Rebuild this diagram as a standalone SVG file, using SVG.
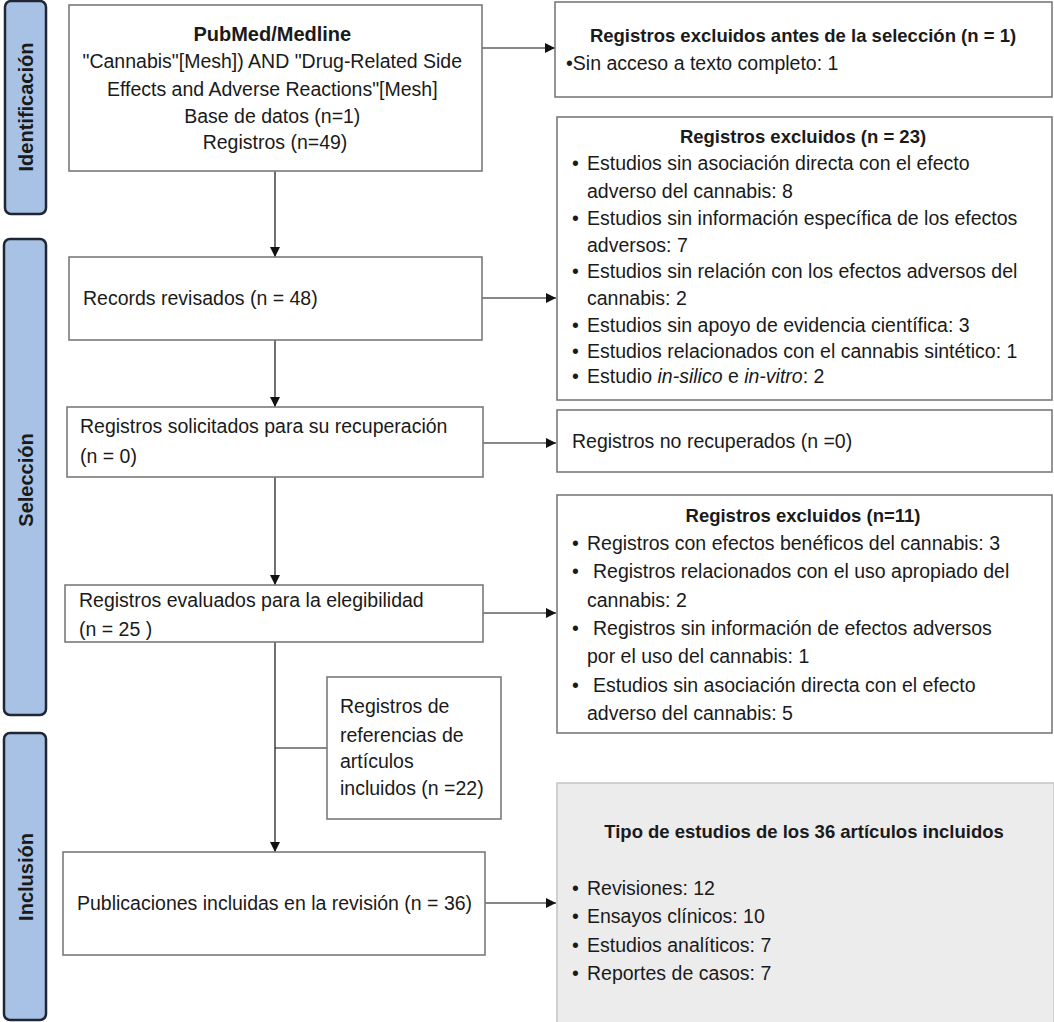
<svg xmlns="http://www.w3.org/2000/svg" width="1054" height="1022" viewBox="0 0 1054 1022">
<defs>
<style>
.box{fill:#fff;stroke:#7a7a7a;stroke-width:1.6}
.grey{fill:#ececec;stroke:#c4c4c4;stroke-width:1.5}
.bar{fill:#a7c2e5;stroke:#1e2733;stroke-width:2.5}
.t{font-family:"Liberation Sans",Arial,sans-serif;font-size:19.5px;fill:#1a1a1a}
.b{font-weight:bold;font-size:18.5px}
.bl{font-family:"Liberation Sans",Arial,sans-serif;font-weight:bold;font-size:20px;fill:#1a1a1a}
.c{stroke:#111;stroke-width:1.2;fill:none}
</style>
<marker id="ah" viewBox="0 0 10 10" refX="10" refY="5" markerWidth="10" markerHeight="10" markerUnits="userSpaceOnUse" orient="auto">
<path d="M0,0 L10,5 L0,10 z" fill="#111"/>
</marker>
</defs>

<g id="phase-identificacion">
<rect class="bar" x="5" y="1" width="41" height="213" rx="6"/>
<text class="bl" transform="translate(33,107) rotate(-90)" text-anchor="middle">Identificación</text>
</g>
<g id="phase-seleccion">
<rect class="bar" x="4" y="239" width="42" height="476" rx="6"/>
<text class="bl" transform="translate(33,480) rotate(-90)" text-anchor="middle">Selección</text>
</g>
<g id="phase-inclusion">
<rect class="bar" x="4" y="733" width="42" height="287" rx="6"/>
<text class="bl" transform="translate(33,877) rotate(-90)" text-anchor="middle">Inclusión</text>
</g>

<g id="connectors">
<line class="c" x1="275" y1="171" x2="275" y2="257" marker-end="url(#ah)"/>
<line class="c" x1="275" y1="340" x2="275" y2="407" marker-end="url(#ah)"/>
<line class="c" x1="275" y1="477" x2="275" y2="585" marker-end="url(#ah)"/>
<line class="c" x1="275" y1="642" x2="275" y2="852" marker-end="url(#ah)"/>
<line class="c" x1="275" y1="748" x2="327" y2="748"/>
<line class="c" x1="482" y1="48" x2="555" y2="48" marker-end="url(#ah)"/>
<line class="c" x1="482" y1="298" x2="556" y2="298" marker-end="url(#ah)"/>
<line class="c" x1="483" y1="443" x2="556" y2="443" marker-end="url(#ah)"/>
<line class="c" x1="483" y1="613" x2="556" y2="613" marker-end="url(#ah)"/>
<line class="c" x1="485" y1="903" x2="556" y2="903" marker-end="url(#ah)"/>
</g>

<g id="pubmed">
<rect class="box" x="69" y="5" width="413" height="166"/>
<text class="t" text-anchor="middle" x="275">
<tspan x="275" y="41" font-weight="bold" font-size="20px">PubMed/Medline</tspan>
<tspan x="275" y="68">"Cannabis"[Mesh]) AND "Drug-Related Side</tspan>
<tspan x="275" y="96">Effects and Adverse Reactions"[Mesh]</tspan>
<tspan x="275" y="123">Base de datos (n=1)</tspan>
<tspan x="275" y="149">Registros (n=49)</tspan>
</text>
</g>

<g id="excluded-before">
<rect class="box" x="555" y="2" width="497" height="95"/>
<text class="t b" x="803" y="42" text-anchor="middle">Registros excluidos antes de la selección (n = 1)</text>
<text class="t" x="566" y="70">•Sin acceso a texto completo: 1</text>
</g>

<g id="records-reviewed">
<rect class="box" x="69" y="257" width="413" height="83"/>
<text class="t" x="83" y="305">Records revisados (n = 48)</text>
</g>

<g id="excluded-23">
<rect class="box" x="557" y="117" width="495" height="283"/>
<text class="t b" x="803" y="143" text-anchor="middle">Registros excluidos (n = 23)</text>
<g class="t">
<text x="572" y="170">•</text><text x="587" y="170">Estudios sin asociación directa con el efecto</text>
<text x="587" y="198">adverso del cannabis: 8</text>
<text x="572" y="225">•</text><text x="587" y="225">Estudios sin información específica de los efectos</text>
<text x="587" y="252">adversos: 7</text>
<text x="572" y="278">•</text><text x="587" y="278">Estudios sin relación con los efectos adversos del</text>
<text x="587" y="305">cannabis: 2</text>
<text x="572" y="332">•</text><text x="587" y="332">Estudios sin apoyo de evidencia científica: 3</text>
<text x="572" y="358">•</text><text x="587" y="358">Estudios relacionados con el cannabis sintético: 1</text>
<text x="572" y="383">•</text><text x="587" y="383">Estudio <tspan font-style="italic">in-silico</tspan> e <tspan font-style="italic">in-vitro</tspan>: 2</text>
</g>
</g>

<g id="records-requested">
<rect class="box" x="67" y="407" width="416" height="70"/>
<text class="t" x="80" y="433">Registros solicitados para su recuperación</text>
<text class="t" x="80" y="463">(n = 0)</text>
</g>

<g id="not-retrieved">
<rect class="box" x="557" y="410" width="495" height="62"/>
<text class="t" x="572" y="448">Registros no recuperados (n =0)</text>
</g>

<g id="records-assessed">
<rect class="box" x="65" y="585" width="418" height="57"/>
<text class="t" x="79" y="607">Registros evaluados para la elegibilidad</text>
<text class="t" x="79" y="636">(n = 25 )</text>
</g>

<g id="excluded-11">
<rect class="box" x="557" y="495" width="495" height="238"/>
<text class="t b" x="803" y="522" text-anchor="middle">Registros excluidos (n=11)</text>
<g class="t">
<text x="572" y="550">•</text><text x="587" y="550">Registros con efectos benéficos del cannabis: 3</text>
<text x="572" y="578">•</text><text x="593" y="578">Registros relacionados con el uso apropiado del</text>
<text x="587" y="607">cannabis: 2</text>
<text x="572" y="635">•</text><text x="593" y="635">Registros sin información de efectos adversos</text>
<text x="587" y="663">por el uso del cannabis: 1</text>
<text x="572" y="692">•</text><text x="593" y="692">Estudios sin asociación directa con el efecto</text>
<text x="587" y="720">adverso del cannabis: 5</text>
</g>
</g>

<g id="references">
<rect class="box" x="327" y="677" width="174" height="142"/>
<g class="t">
<text x="340" y="713">Registros de</text>
<text x="340" y="742">referencias de</text>
<text x="340" y="768">artículos</text>
<text x="340" y="795">incluidos (n =22)</text>
</g>
</g>

<g id="publications-included">
<rect class="box" x="63" y="852" width="422" height="103"/>
<text class="t" x="77" y="910">Publicaciones incluidas en la revisión (n = 36)</text>
</g>

<g id="study-types">
<rect class="grey" x="557" y="783" width="497" height="245"/>
<text class="t b" x="804" y="838" text-anchor="middle">Tipo de estudios de los 36 artículos incluidos</text>
<g class="t">
<text x="572" y="895">•</text><text x="587" y="895">Revisiones: 12</text>
<text x="572" y="923">•</text><text x="587" y="923">Ensayos clínicos: 10</text>
<text x="572" y="952">•</text><text x="587" y="952">Estudios analíticos: 7</text>
<text x="572" y="980">•</text><text x="587" y="980">Reportes de casos: 7</text>
</g>
</g>
</svg>
